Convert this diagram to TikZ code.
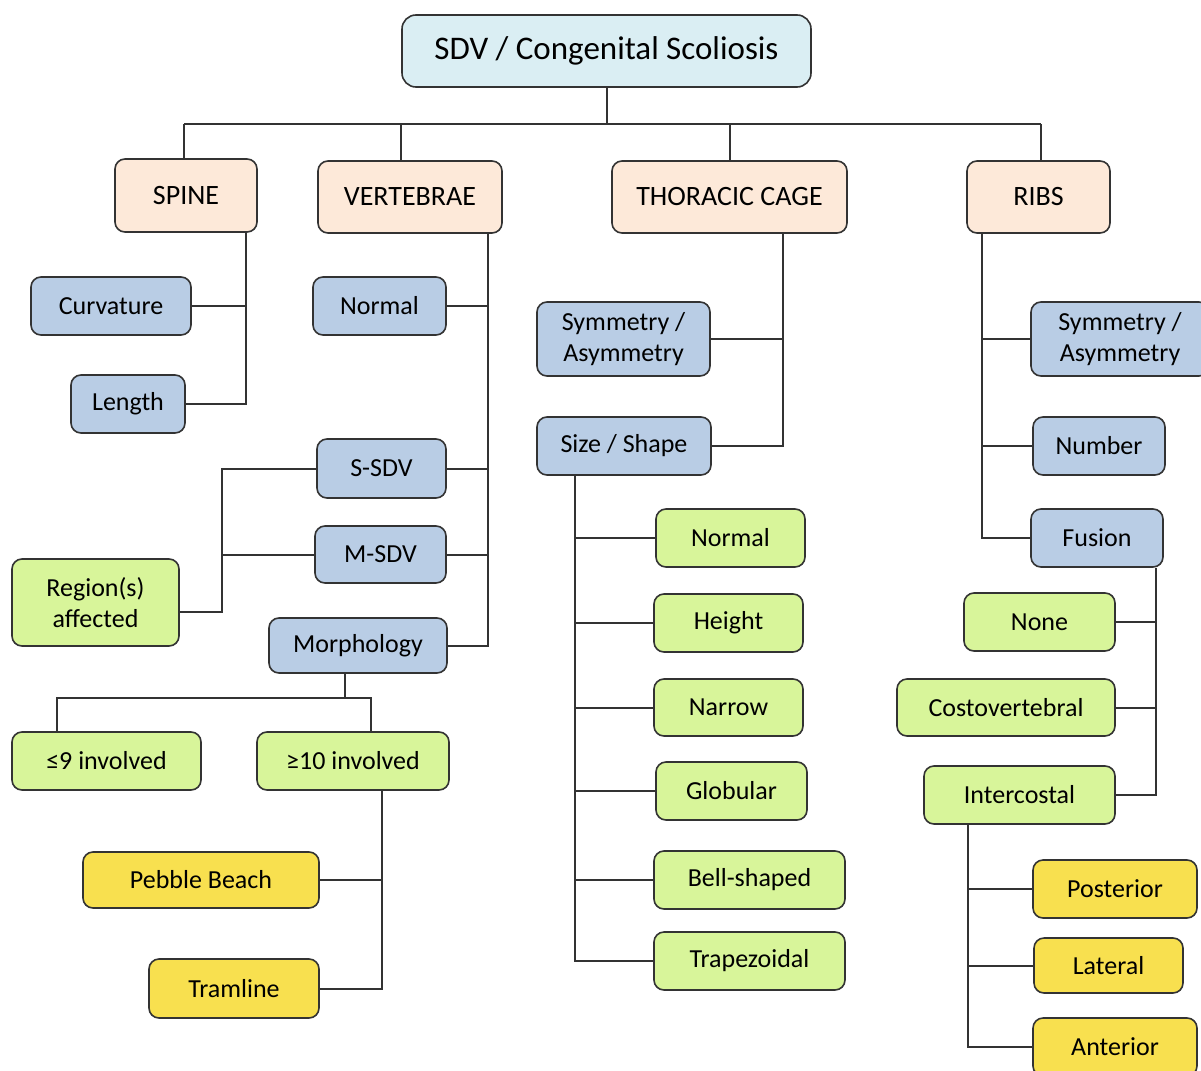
\documentclass[tikz,border=0pt]{standalone}
\usepackage{fontspec}
\setmainfont{Carlito}
\usetikzlibrary{positioning}

\definecolor{rootfill}{HTML}{DAEEF3}
\definecolor{topfill}{HTML}{FDE9D9}
\definecolor{bluefill}{HTML}{B9CDE5}
\definecolor{greenfill}{HTML}{D8F59A}
\definecolor{yellowfill}{HTML}{F8E04F}
\definecolor{edge}{HTML}{333333}

\begin{document}
\begin{tikzpicture}[x=1pt,y=-1pt,
    box/.style={draw=edge,line width=1.6pt,rounded corners=10pt,inner sep=0pt,
      align=center,text=black,font=\fontsize{26}{31}\selectfont},
    rootbox/.style={box,fill=rootfill,rounded corners=14pt,font=\fontsize{33}{38}\selectfont},
    topbox/.style={box,fill=topfill,font=\fontsize{28}{33}\selectfont},
    bluebox/.style={box,fill=bluefill},
    greenbox/.style={box,fill=greenfill},
    yellowbox/.style={box,fill=yellowfill},
    link/.style={draw=edge,line width=2pt}]
  \clip (0,0) rectangle (1201,1070);
  \fill[white] (0,0) rectangle (1201,1070);

  % root and first level
  \node[rootbox,minimum width=409,minimum height=72] (root) at (606.5,51) {SDV / Congenital Scoliosis};
  \node[topbox,minimum width=142,minimum height=73] (spine) at (186,195.5) {SPINE};
  \node[topbox,minimum width=184,minimum height=72] (vert) at (410,197) {VERTEBRAE};
  \node[topbox,minimum width=235,minimum height=72] (thor) at (729.5,197) {THORACIC CAGE};
  \node[topbox,minimum width=143,minimum height=72] (ribs) at (1038.5,197) {RIBS};

  % spine
  \node[bluebox,minimum width=160,minimum height=58] (curv) at (111,306) {Curvature};
  \node[bluebox,minimum width=114,minimum height=58] (len) at (128,404) {Length};

  % vertebrae
  \node[bluebox,minimum width=133,minimum height=58] (vnorm) at (379.5,306) {Normal};
  \node[bluebox,minimum width=129,minimum height=59] (ssdv) at (381.5,468.5) {S-SDV};
  \node[bluebox,minimum width=131,minimum height=57] (msdv) at (380.5,554.5) {M-SDV};
  \node[bluebox,minimum width=178,minimum height=55] (morph) at (358,645.5) {Morphology};
  \node[greenbox,minimum width=167,minimum height=87] (region) at (95.5,602.5) {Region(s)\\affected};
  \node[greenbox,minimum width=189,minimum height=58] (le9) at (106.5,761) {≤9 involved};
  \node[greenbox,minimum width=192,minimum height=58] (ge10) at (353,761) {≥10 involved};
  \node[yellowbox,minimum width=236,minimum height=56] (pebble) at (201,880) {Pebble Beach};
  \node[yellowbox,minimum width=170,minimum height=59] (tram) at (234,988.5) {Tramline};

  % thoracic cage
  \node[bluebox,minimum width=173,minimum height=74] (tsym) at (623.5,339) {Symmetry /\\Asymmetry};
  \node[bluebox,minimum width=174,minimum height=58] (tsize) at (624,446) {Size / Shape};
  \node[greenbox,minimum width=149,minimum height=58] (tnorm) at (730.5,538) {Normal};
  \node[greenbox,minimum width=149,minimum height=58] (height) at (728.5,623) {Height};
  \node[greenbox,minimum width=149,minimum height=57] (narrow) at (728.5,707.5) {Narrow};
  \node[greenbox,minimum width=151,minimum height=58] (glob) at (731.5,791) {Globular};
  \node[greenbox,minimum width=191,minimum height=58] (bell) at (749.5,880) {Bell-shaped};
  \node[greenbox,minimum width=191,minimum height=58] (trap) at (749.5,961) {Trapezoidal};

  % ribs
  \node[bluebox,minimum width=178,minimum height=74] (rsym) at (1120,339) {Symmetry /\\Asymmetry};
  \node[bluebox,minimum width=132,minimum height=58] (rnum) at (1099,446) {Number};
  \node[bluebox,minimum width=132,minimum height=58] (fusion) at (1097,538) {Fusion};
  \node[greenbox,minimum width=151,minimum height=58] (none) at (1039.5,622) {None};
  \node[greenbox,minimum width=218,minimum height=57] (costo) at (1006,707.5) {Costovertebral};
  \node[greenbox,minimum width=191,minimum height=58] (inter) at (1019.5,795) {Intercostal};
  \node[yellowbox,minimum width=164,minimum height=58] (post) at (1115,889) {Posterior};
  \node[yellowbox,minimum width=149,minimum height=55] (lat) at (1108.5,965.5) {Lateral};
  \node[yellowbox,minimum width=164,minimum height=58] (ant) at (1115,1047) {Anterior};

  % connectors
  \coordinate (bus) at (0,124);
  \draw[link] (root.south) -- (root.south |- bus);
  \draw[link] ([xshift=-2pt]spine.north |- bus) -- ([xshift=2pt]ribs.north |- bus);
  \draw[link] ([xshift=-2pt]spine.north) -- ([xshift=-2pt]spine.north |- bus);
  \draw[link] ([xshift=-9pt]vert.north) -- ([xshift=-9pt]vert.north |- bus);
  \draw[link] (thor.north) -- (thor.north |- bus);
  \draw[link] ([xshift=2pt]ribs.north) -- ([xshift=2pt]ribs.north |- bus);

  \draw[link] ([xshift=-12pt]spine.south east) coordinate (spinetr) |- (len.east);
  \draw[link] (curv.east) -- (curv.east -| spinetr);

  \draw[link] ([xshift=-15pt]vert.south east) coordinate (verttr) |- (morph.east);
  \foreach \n in {vnorm,ssdv,msdv}
    \draw[link] (\n.east) -- (\n.east -| verttr);
  \draw[link] ([yshift=-9.5pt]region.east) -- ++(42,0) coordinate (regtr) |- (ssdv.west);
  \draw[link] (msdv.west) -- (msdv.west -| regtr);

  \draw[link] ([xshift=-13pt]morph.south) -- ++(0,24) coordinate (mb);
  \draw[link] ([xshift=-49.5pt]le9.north) |- (mb) -| ([xshift=18pt]ge10.north);
  \draw[link] ([xshift=-68pt]ge10.south east) coordinate (getr) |- (tram.east);
  \draw[link] (pebble.east) -- (pebble.east -| getr);

  \draw[link] ([xshift=-65pt]thor.south east) coordinate (thortr) |- (tsize.east);
  \draw[link] (tsym.east) -- (tsym.east -| thortr);
  \draw[link] ([xshift=39pt]tsize.south west) coordinate (sztr) |- (trap.west);
  \foreach \n in {tnorm,height,narrow,glob,bell}
    \draw[link] (\n.west) -- (\n.west -| sztr);

  \draw[link] ([xshift=16pt]ribs.south west) coordinate (ribtr) |- (fusion.west);
  \foreach \n in {rsym,rnum}
    \draw[link] (\n.west) -- (\n.west -| ribtr);
  \draw[link] ([xshift=-8pt]fusion.south east) coordinate (fustr) |- (inter.east);
  \foreach \n in {none,costo}
    \draw[link] (\n.east) -- (\n.east -| fustr);
  \draw[link] ([xshift=45pt]inter.south west) coordinate (inttr) |- (ant.west);
  \foreach \n in {post,lat}
    \draw[link] (\n.west) -- (\n.west -| inttr);
\end{tikzpicture}
\end{document}
